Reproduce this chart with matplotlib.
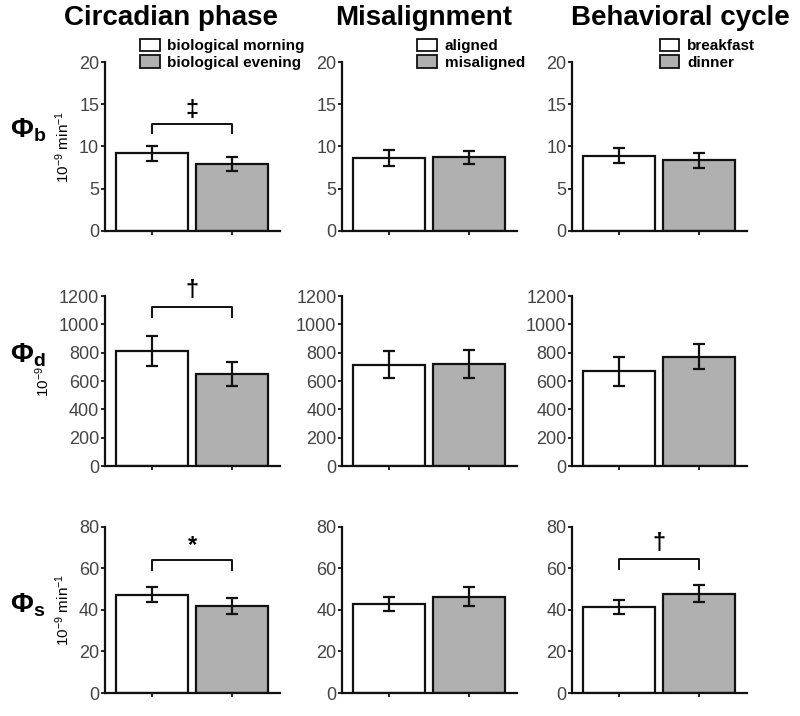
import matplotlib.pyplot as plt
from matplotlib.patches import Patch

plt.rcParams['font.family'] = ['Liberation Sans', 'DejaVu Sans']
plt.rcParams['mathtext.fontset'] = 'custom'
plt.rcParams['mathtext.rm'] = 'Liberation Sans'
plt.rcParams['mathtext.bf'] = 'Liberation Sans:bold'
plt.rcParams['mathtext.it'] = 'Liberation Sans:italic'

# column titles and legend labels
col_titles = ['Circadian phase', 'Misalignment', 'Behavioral cycle']
legend_labels = [['biological morning', 'biological evening'],
                 ['aligned', 'misaligned'],
                 ['breakfast', 'dinner']]

# rows: Phi_b, Phi_d, Phi_s
row_names = [r'$\mathbf{\Phi_b}$', r'$\mathbf{\Phi_d}$', r'$\mathbf{\Phi_s}$']
row_units = [r'10$^{-9}$ min$^{-1}$', r'10$^{-9}$', r'10$^{-9}$ min$^{-1}$']
row_ymax = [20, 1200, 80]
row_ticks = [[0, 5, 10, 15, 20],
             [0, 200, 400, 600, 800, 1000, 1200],
             [0, 20, 40, 60, 80]]

# means (first condition / second condition), per row, per column
mean_first = [[9.2, 8.6, 8.9],
              [815, 715, 668],
              [47.4, 42.9, 41.5]]
mean_second = [[7.95, 8.7, 8.35],
               [648, 722, 773],
               [42.0, 46.4, 47.9]]
err_first = [[0.9, 0.95, 0.9],
             [107, 96, 101],
             [3.8, 3.2, 3.5]]
err_second = [[0.85, 0.8, 0.9],
              [85, 97, 86],
              [3.8, 4.5, 4.2]]

# significance markers: (row, col, symbol, bracket height, leg drop, symbol y)
sig_marks = [(0, 0, '‡', 12.7, 1.05, 12.9),
             (1, 0, '†', 1126, 70, 1160),
             (2, 0, '*', 64.3, 5.0, 65.5),
             (2, 2, '†', 64.5, 5.0, 66.5)]

legend_anchor_x = [0.2, 0.43, 0.5]

white = 'white'
gray = '#b0b0b0'

fig = plt.figure(figsize=(8, 7.16), dpi=100)

col_left = [0.131, 0.4275, 0.715]
col_w = 0.219
row_bottom = [0.6774, 0.349, 0.0321]
row_h = [0.236, 0.2374, 0.232]

axes = [[None] * 3 for _ in range(3)]
for r in range(3):
    for c in range(3):
        ax = fig.add_axes([col_left[c], row_bottom[r], col_w, row_h[r]])
        axes[r][c] = ax
        ax.bar([0, 1], [mean_first[r][c], mean_second[r][c]], width=0.9,
               color=[white, gray], edgecolor='#111111', linewidth=1.6,
               zorder=2)
        ax.errorbar([0, 1], [mean_first[r][c], mean_second[r][c]],
                    yerr=[err_first[r][c], err_second[r][c]], fmt='none',
                    ecolor='#111111', elinewidth=1.6, capsize=4.5,
                    capthick=1.6, zorder=3)
        ax.set_xlim(-0.59, 1.6)
        ax.set_ylim(0, row_ymax[r])
        ax.set_yticks(row_ticks[r])
        ax.set_xticks([0, 1])
        ax.set_xticklabels([])
        for s in ['top', 'right']:
            ax.spines[s].set_visible(False)
        for s in ['left', 'bottom']:
            ax.spines[s].set_linewidth(1.6)
            ax.spines[s].set_color('#111111')
        ax.tick_params(axis='y', length=3, width=1.2, labelsize=13,
                       labelcolor='#444444', pad=1)
        ax.tick_params(axis='x', length=3, width=1.2)
        if c == 0:
            ax.set_ylabel(row_units[r], fontsize=11, labelpad=5)

for (r, c, sym, h, drop, sy) in sig_marks:
    ax = axes[r][c]
    ax.plot([0, 0, 1, 1], [h - drop, h, h, h - drop], color='#111111',
            linewidth=1.4, zorder=3)
    ax.text(0.5, sy, sym, ha='center', va='bottom', fontsize=17,
            fontweight='bold', clip_on=False)

for c in range(3):
    handles = [Patch(facecolor=white, edgecolor='#111111', linewidth=1.3),
               Patch(facecolor=gray, edgecolor='#111111', linewidth=1.3)]
    axes[0][c].legend(handles, legend_labels[c], loc='upper left',
                      bbox_to_anchor=(legend_anchor_x[c], 1.138),
                      frameon=False, prop={'size': 11, 'weight': 'bold'},
                      handlelength=1.3, handleheight=0.9, handletextpad=0.5,
                      borderpad=0, borderaxespad=0, labelspacing=0.12)

title_x = [171 / 800, 424 / 800, 680 / 800]
for c in range(3):
    fig.text(title_x[c], 1 - 18 / 716, col_titles[c], ha='center',
             va='center', fontsize=20, fontweight='bold')

row_label_y = [130, 355, 605]
for r in range(3):
    fig.text(0.012, 1 - row_label_y[r] / 716, row_names[r], ha='left',
             va='center', fontsize=20)

fig.savefig('out.png', dpi=100)
